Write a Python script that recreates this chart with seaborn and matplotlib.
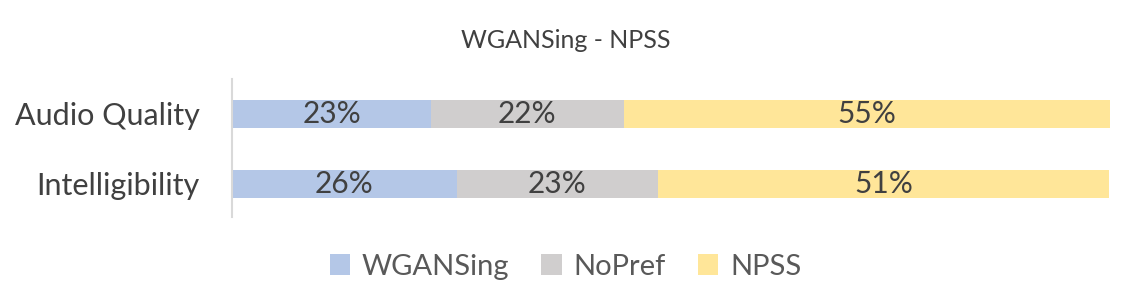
import numpy as np
import pandas as pd
import matplotlib.pyplot as plt
import seaborn as sns
from matplotlib.patches import Patch

# data (percent of listeners)
criteria = ["Audio Quality", "Intelligibility"]
wgansing = [22.7, 25.6]
nopref = [21.9, 22.9]
npss = [55.4, 51.4]
series_names = ["WGANSing", "NoPref", "NPSS"]
colors = ["#b4c7e7", "#d0cece", "#ffe699"]

df = pd.DataFrame({"criterion": criteria, "WGANSing": wgansing,
                   "NoPref": nopref, "NPSS": npss})
cum = df[series_names].cumsum(axis=1)

sns.set_style("white")
plt.rcParams['font.family'] = ['Lato', 'DejaVu Sans']

fig = plt.figure(figsize=(11.31, 3.04), dpi=100)
ax = fig.add_axes([0.205, 0.286, 0.7765, 0.454])

# stacked bars: draw cumulative totals, widest first
for name, col in reversed(list(zip(series_names, colors))):
    sns.barplot(x=cum[name], y=df["criterion"], color=col, orient="h",
                width=0.40, ax=ax, linewidth=0, saturation=1)

# percentage labels centered in each segment
for i in range(len(df)):
    prev = 0
    for name in series_names:
        val = df.loc[i, name]
        ax.text(prev + val / 2, i, f"{val:.0f}%", ha="center", va="center",
                fontsize=21.5, color="#404040")
        prev += val

ax.set_xlim(0, 100)
ax.set_ylim(1.48, -0.5)
ax.set_xlabel("")
ax.set_ylabel("")
ax.set_xticks([])
ax.tick_params(axis="y", length=0, pad=23, labelsize=22, labelcolor="#404040")
for s in ["top", "right", "bottom"]:
    ax.spines[s].set_visible(False)
ax.spines["left"].set_color("#d9d9d9")
ax.spines["left"].set_linewidth(1.5)

fig.text(0.5, 0.868, "WGANSing - NPSS", ha="center", va="center",
         fontsize=18, color="#404040")

leg_handles = [Patch(facecolor=c, edgecolor="none") for c in colors]
fig.legend(leg_handles, series_names, loc="center", bbox_to_anchor=(0.5, 0.122),
           ncol=3, frameon=False, fontsize=21, handlelength=0.7, handleheight=0.7,
           handletextpad=0.4, columnspacing=1.1, labelcolor="#595959")

plt.savefig("out.png", dpi=100)
